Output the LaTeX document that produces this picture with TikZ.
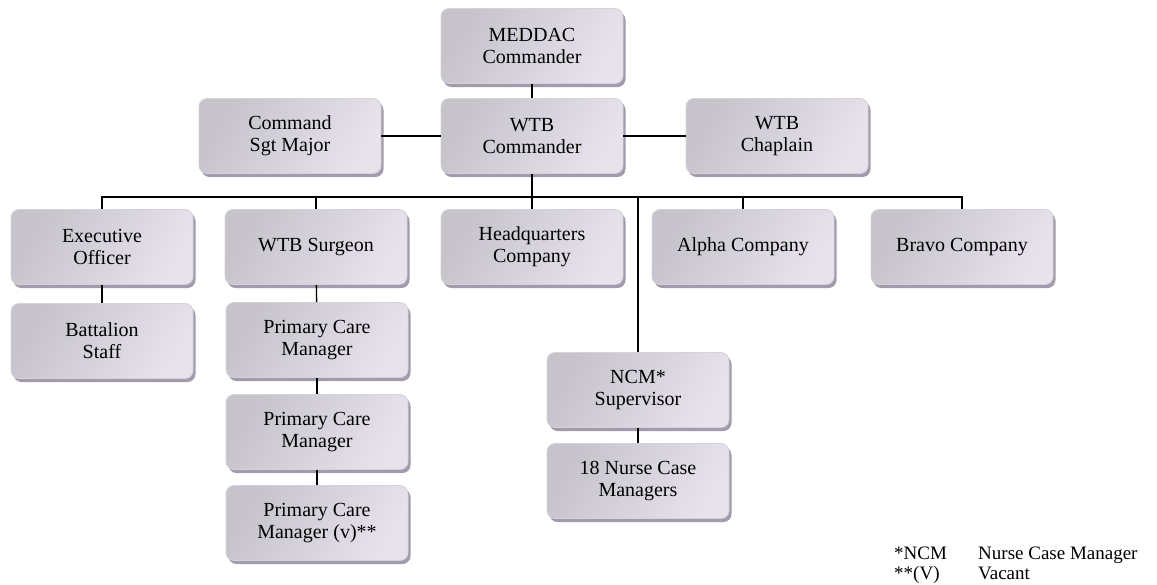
\documentclass[tikz,border=0pt]{standalone}
\usepackage{fontspec}
\setmainfont{Liberation Serif}
\usetikzlibrary{shadows}

\definecolor{boxDark}{HTML}{C6C3CB}
\definecolor{boxLight}{HTML}{E7E2EC}
\definecolor{boxEdge}{HTML}{D6D2DA}
\definecolor{boxShadow}{HTML}{A29BAE}

\begin{document}
\begin{tikzpicture}[
    x=1pt, y=-1pt,
    unit/.style={%
      draw=boxEdge,
      line width=0.8pt,
      rounded corners=8pt,
      minimum width=182pt,
      minimum height=75pt,
      align=center,
      font=\fontsize{20}{22}\selectfont,
      left color=boxDark,
      right color=boxLight,
      shading angle=60,
      drop shadow={shadow xshift=2.5pt, shadow yshift=-3.5pt, fill=boxShadow, opacity=1},
    },
    link/.style={%
      draw=black,
      line width=1.4pt,
    },
    legend/.style={%
      anchor=base west,
      inner sep=0pt,
      font=\fontsize{19}{19}\selectfont,
    },
  ]

    \useasboundingbox (0,0) rectangle (1157,584);

    \node [unit] (meddac) at (532,46) {MEDDAC\\Commander};
    \node [unit] (sgm) at (290,136) {Command\\Sgt Major};
    \node [unit] (wtbc) at (532,136) {WTB\\Commander};
    \node [unit] (chap) at (777,136) {WTB\\Chaplain};

    \node [unit] (exo) at (102,247) {Executive\\Officer};
    \node [unit] (surg) at (316,247) {WTB Surgeon};
    \node [unit] (hq) at (532,247) {Headquarters\\Company};
    \node [unit] (alpha) at (743,247) {Alpha Company};
    \node [unit] (bravo) at (962,247) {Bravo Company};

    \node [unit] (staff) at (102,341) {Battalion\\Staff};
    \node [unit] (pcmA) at (317,340) {Primary Care\\Manager};
    \node [unit] (pcmB) at (317,432) {Primary Care\\Manager};
    \node [unit] (pcmC) at (317,523) {Primary Care\\Manager (v)**};
    \node [unit] (ncm) at (638,390) {NCM*\\Supervisor};
    \node [unit] (nurses) at (638,481) {18 Nurse Case\\Managers};

    \coordinate (bus) at (532,197);

    \draw [link] (meddac) -- (wtbc);
    \draw [link] (sgm) -- (wtbc);
    \draw [link] (wtbc) -- (chap);
    \draw [link] (wtbc) -- (hq);
    \draw [link] (exo.north) |- (bus) -| (bravo.north);
    \draw [link] (surg.north) |- (bus);
    \draw [link] (alpha.north) |- (bus);
    \draw [link] (ncm.north) |- (bus);
    \draw [link] (exo) -- (staff);
    \draw [link] (surg) -- (pcmA);
    \draw [link] (pcmA) -- (pcmB);
    \draw [link] (pcmB) -- (pcmC);
    \draw [link] (ncm) -- (nurses);

    % key to the abbreviations
    \node [legend] (keyA) at (894,559) {*NCM};
    \node [legend] (keyAtext) at (978,559) {Nurse Case Manager};
    \node [legend] (keyB) at (894,579) {**(V)};
    \node [legend] (keyBtext) at (978,579) {Vacant};
\end{tikzpicture}
\end{document}
